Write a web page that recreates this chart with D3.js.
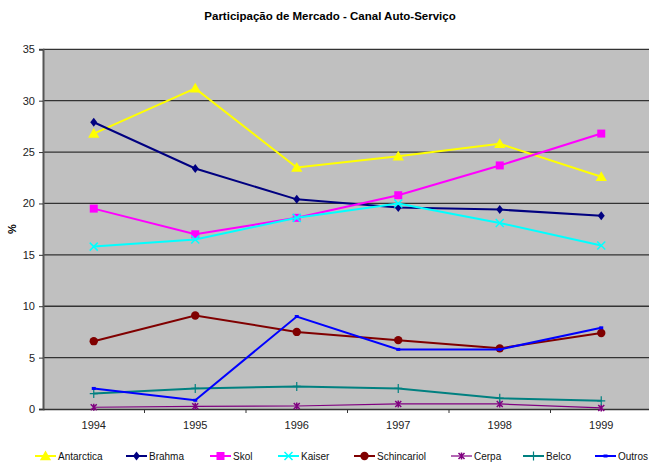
<!DOCTYPE html>
<html>
<head>
<meta charset="utf-8">
<script src="https://cdn.jsdelivr.net/npm/d3@7"></script>
<style>
body { margin: 0; background: #fff; }
text { font-family: "Liberation Sans", Arial, sans-serif; }
</style>
</head>
<body>
<svg id="chart" width="649" height="465"></svg>
<script>
var years = ["1994", "1995", "1996", "1997", "1998", "1999"];
var antarctica = [26.8, 31.2, 23.5, 24.6, 25.8, 22.6];
var brahma = [27.9, 23.4, 20.4, 19.6, 19.4, 18.8];
var skol = [19.5, 17.0, 18.6, 20.8, 23.7, 26.8];
var kaiser = [15.8, 16.5, 18.6, 20.0, 18.1, 15.9];
var schincariol = [6.6, 9.1, 7.5, 6.7, 5.9, 7.4];
var cerpa = [0.17, 0.26, 0.29, 0.49, 0.49, 0.1];
var belco = [1.5, 2.0, 2.2, 2.0, 1.05, 0.8];
var outros = [2.0, 0.85, 9.0, 5.8, 5.8, 7.9];
var yTicks = [0, 5, 10, 15, 20, 25, 30, 35];

var series = [
    {name: "Antarctica", values: antarctica, color: "#ffff00", shape: "triangle", w: 2},
    {name: "Brahma", values: brahma, color: "#000080", shape: "diamond", w: 2},
    {name: "Skol", values: skol, color: "#ff00ff", shape: "square", w: 2},
    {name: "Kaiser", values: kaiser, color: "#00ffff", shape: "x", w: 2},
    {name: "Schincariol", values: schincariol, color: "#800000", shape: "circle", w: 2},
    {name: "Cerpa", values: cerpa, color: "#800080", shape: "star", w: 1.2},
    {name: "Belco", values: belco, color: "#008080", shape: "plus", w: 2},
    {name: "Outros", values: outros, color: "#0000ff", shape: "dash", w: 2}
];

var svg = d3.select("#chart");
var plotL = 43, plotR = 652, plotT = 49.3, plotB = 409;

var x = d3.scaleBand().domain(years).range([plotL, plotR]);
var y = d3.scaleLinear().domain([0, 35]).range([plotB, plotT]);

// plot area
svg.append("rect")
    .attr("x", plotL).attr("y", plotT)
    .attr("width", plotR - plotL).attr("height", plotB - plotT)
    .attr("fill", "#c0c0c0");

// grid
svg.append("g").selectAll("line")
    .data(yTicks.filter(function(d) { return d > 0; }))
    .enter().append("line")
    .attr("x1", plotL).attr("x2", plotR)
    .attr("y1", function(d) { return y(d); })
    .attr("y2", function(d) { return y(d); })
    .attr("stroke", "#333").attr("stroke-width", 1.3);

// y axis
var yAxis = svg.append("g")
    .attr("transform", "translate(" + plotL + ",0)")
    .call(d3.axisLeft(y).tickValues(yTicks).tickSize(4).tickPadding(4));
yAxis.select(".domain").attr("stroke", "#555").attr("stroke-width", 2);
yAxis.selectAll(".tick line").attr("stroke", "#333");
yAxis.selectAll("text").attr("font-size", "11px").attr("fill", "#222")
    .style("font-family", "Liberation Sans, Arial, sans-serif");

// x axis
var xAxis = svg.append("g")
    .attr("transform", "translate(0," + plotB + ")")
    .call(d3.axisBottom(x).tickSize(0).tickPadding(12));
xAxis.select(".domain").attr("stroke", "#333").attr("stroke-width", 1.5);
xAxis.selectAll("text").attr("font-size", "11px").attr("fill", "#222")
    .style("font-family", "Liberation Sans, Arial, sans-serif");
svg.append("g").selectAll("line")
    .data(years.slice(1))
    .enter().append("line")
    .attr("x1", function(d) { return x(d); })
    .attr("x2", function(d) { return x(d); })
    .attr("y1", plotB).attr("y2", plotB + 4)
    .attr("stroke", "#333");

// title and axis label
svg.append("text")
    .attr("x", 330).attr("y", 20)
    .attr("text-anchor", "middle")
    .attr("font-size", "11.5px").attr("font-weight", "bold")
    .text("Participação de Mercado - Canal Auto-Serviço");

svg.append("text")
    .attr("transform", "translate(16,229) rotate(-90)")
    .attr("text-anchor", "middle")
    .attr("font-size", "11px").attr("font-weight", "bold")
    .text("%");

function drawMarker(g, shape, color, cx, cy) {
    if (shape == "triangle") {
        g.append("path").attr("d", d3.symbol().type(d3.symbolTriangle).size(55)())
            .attr("transform", "translate(" + cx + "," + (cy + 1) + ")").attr("fill", color);
    } else if (shape == "diamond") {
        g.append("path").attr("d", "M0,-4.5L3.5,0L0,4.5L-3.5,0Z")
            .attr("transform", "translate(" + cx + "," + cy + ")").attr("fill", color);
    } else if (shape == "square") {
        g.append("rect").attr("x", cx - 4).attr("y", cy - 4)
            .attr("width", 8).attr("height", 8).attr("fill", color);
    } else if (shape == "x") {
        g.append("path").attr("d", "M-4,-4L4,4M-4,4L4,-4")
            .attr("transform", "translate(" + cx + "," + cy + ")")
            .attr("stroke", color).attr("stroke-width", 1.5);
    } else if (shape == "circle") {
        g.append("circle").attr("cx", cx).attr("cy", cy).attr("r", 4.2).attr("fill", color);
    } else if (shape == "star") {
        g.append("path").attr("d", "M-3,-3L3,3M-3,3L3,-3M0,-3.5L0,3.5")
            .attr("transform", "translate(" + cx + "," + cy + ")")
            .attr("stroke", color).attr("stroke-width", 1.5);
    } else if (shape == "plus") {
        g.append("path").attr("d", "M-4,0L4,0M0,-4.5L0,4.5")
            .attr("transform", "translate(" + cx + "," + cy + ")")
            .attr("stroke", color).attr("stroke-width", 1.2);
    } else if (shape == "dash") {
        g.append("rect").attr("x", cx - 2).attr("y", cy - 1.5)
            .attr("width", 4).attr("height", 3).attr("fill", color);
    }
}

var line = d3.line()
    .x(function(d, i) { return x(years[i]) + x.bandwidth() / 2; })
    .y(function(d) { return y(d); });

series.forEach(function(s) {
    var g = svg.append("g");
    g.append("path")
        .attr("d", line(s.values))
        .attr("fill", "none")
        .attr("stroke", s.color)
        .attr("stroke-width", s.w);
    s.values.forEach(function(v, i) {
        drawMarker(g, s.shape, s.color, x(years[i]) + x.bandwidth() / 2, y(v));
    });
});

// legend
var legendX = [35, 126, 210, 278, 354, 451, 523, 595];
var legend = svg.append("g");
series.forEach(function(s, i) {
    var lx = legendX[i], ly = 456;
    legend.append("line")
        .attr("x1", lx).attr("x2", lx + 21)
        .attr("y1", ly).attr("y2", ly)
        .attr("stroke", s.color).attr("stroke-width", s.w);
    drawMarker(legend, s.shape, s.color, lx + 10.5, ly);
    legend.append("text")
        .attr("x", lx + 23).attr("y", ly + 4)
        .attr("font-size", "10px").attr("fill", "#111")
        .text(s.name);
});
</script>
</body>
</html>
